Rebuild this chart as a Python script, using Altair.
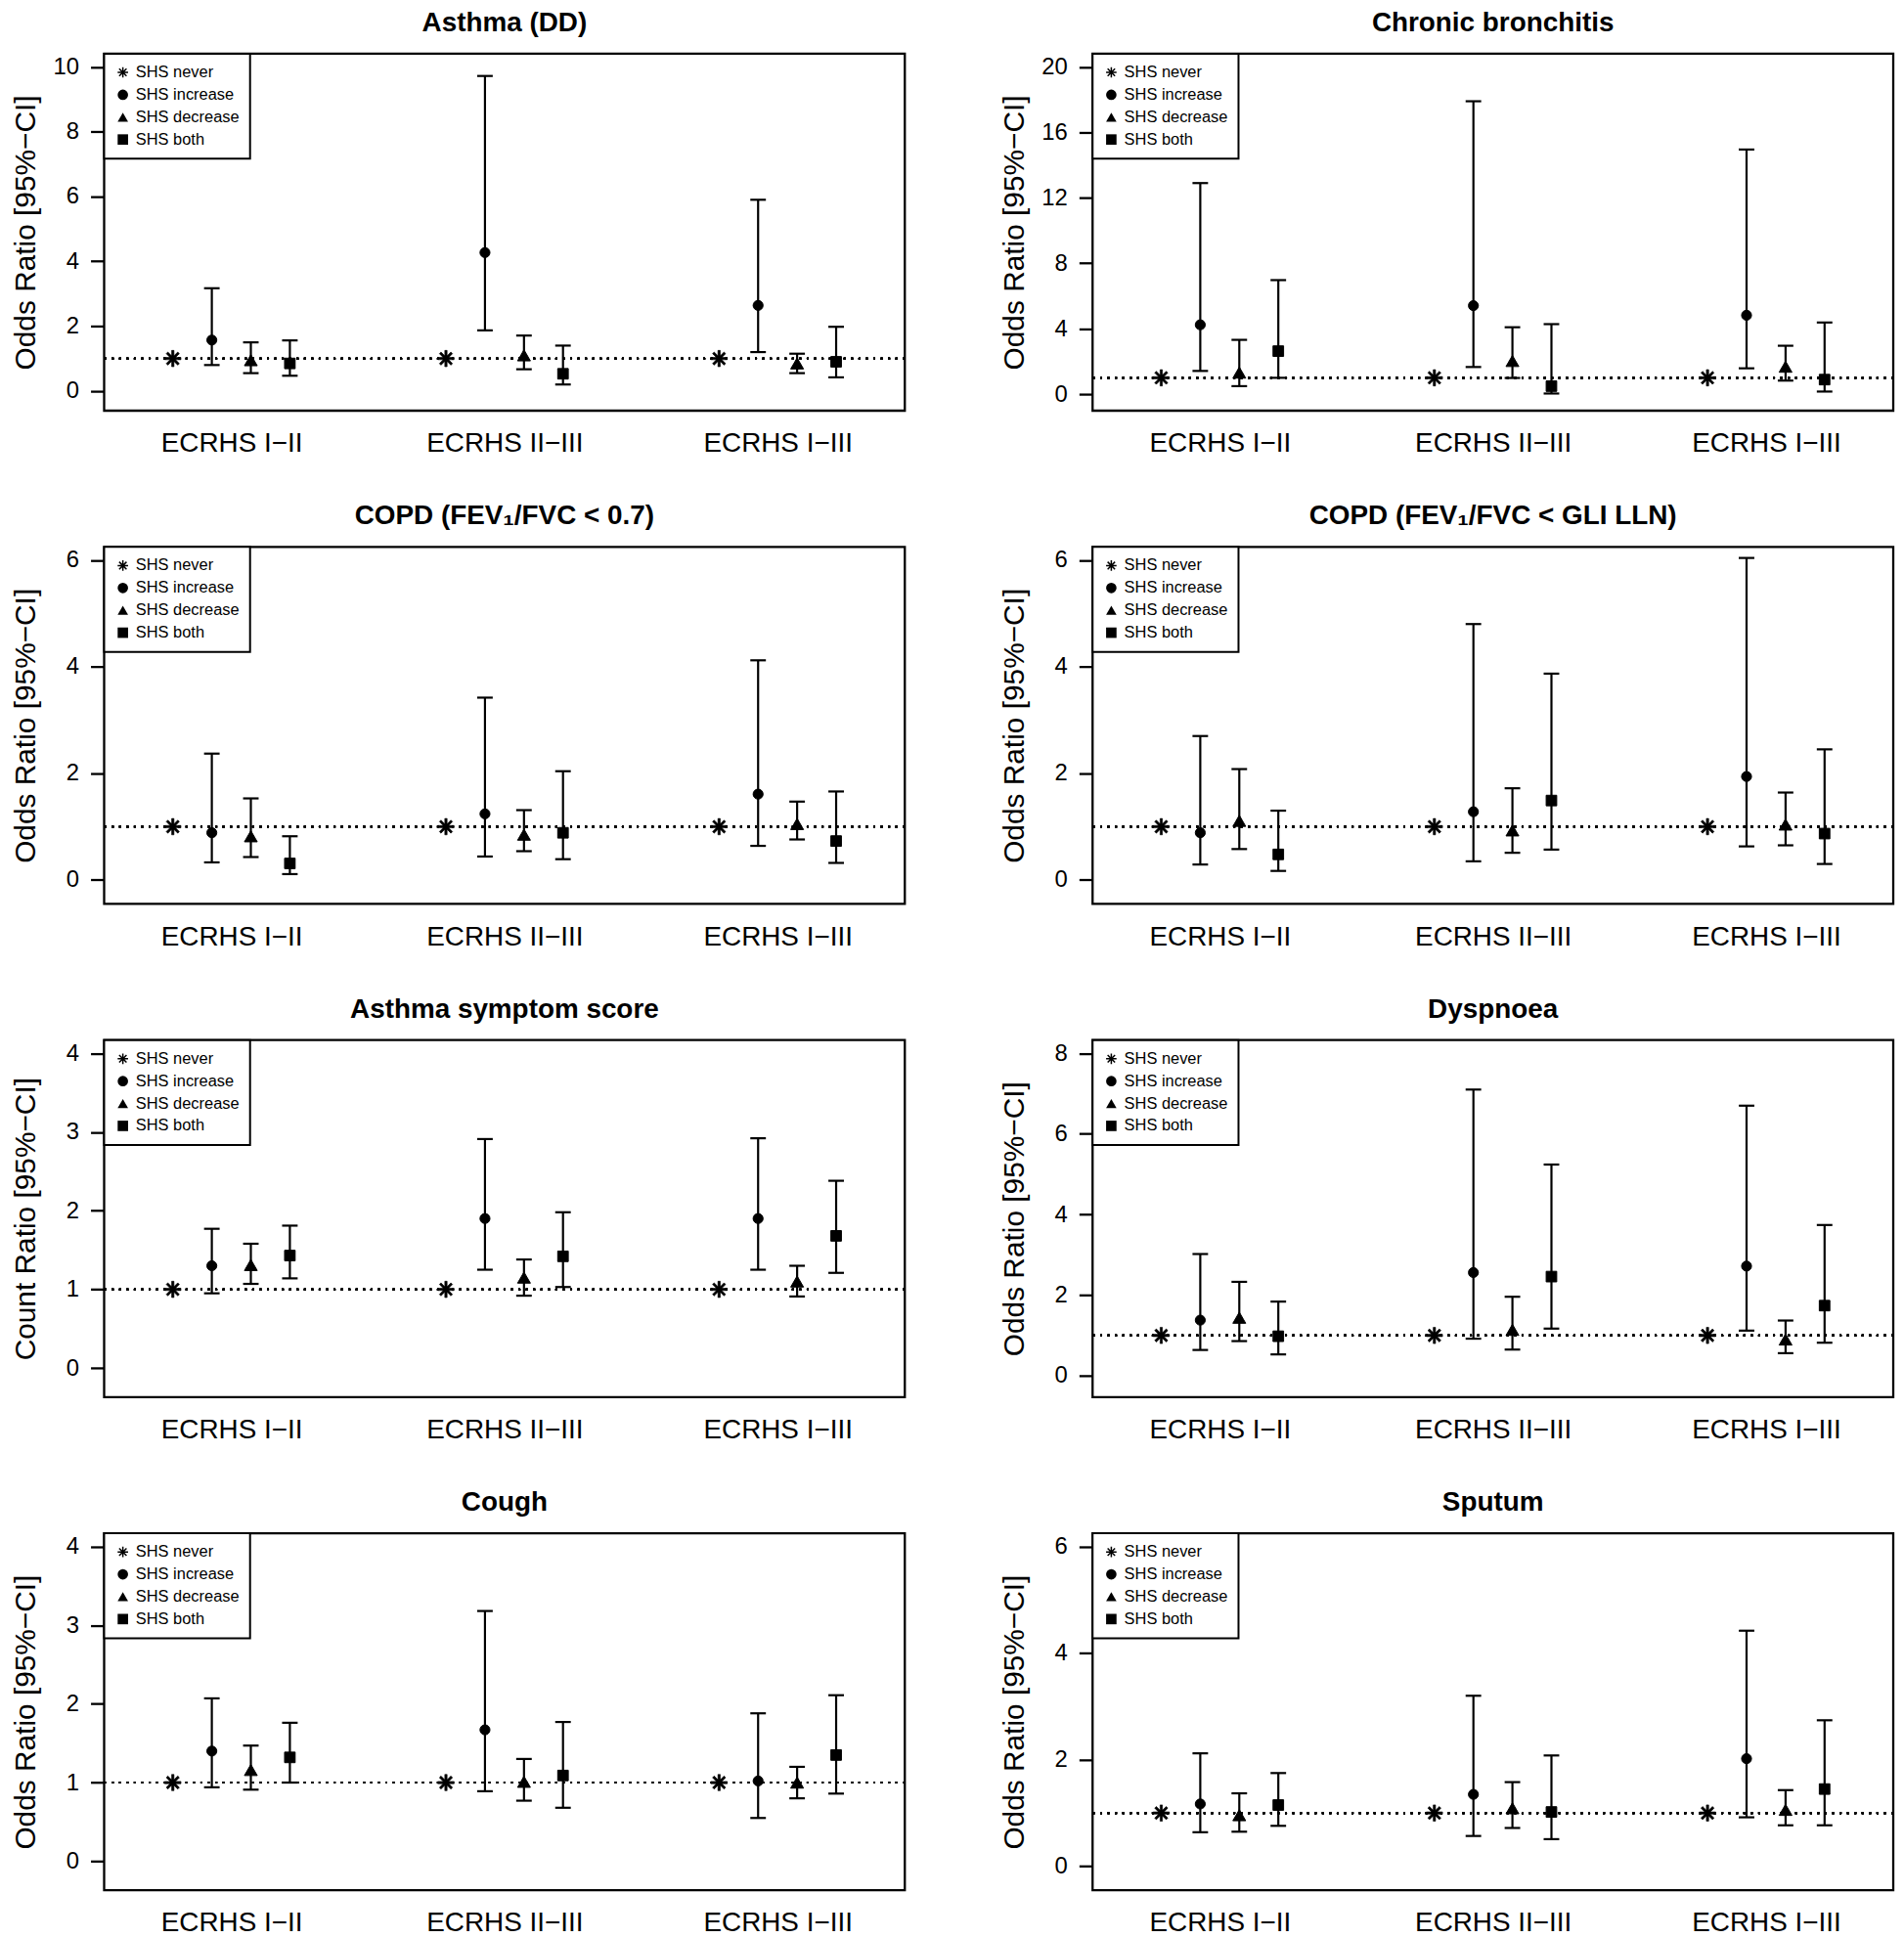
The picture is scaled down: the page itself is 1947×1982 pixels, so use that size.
import math
import altair as alt
import pandas as pd

FONT = "Liberation Sans"

periods = ["ECRHS I\u2212II", "ECRHS II\u2212III", "ECRHS I\u2212III"]
groups = ["SHS never", "SHS increase", "SHS decrease", "SHS both"]

titles = ["Asthma (DD)", "Chronic bronchitis",
          "COPD (FEV\u2081/FVC < 0.7)", "COPD (FEV\u2081/FVC < GLI LLN)",
          "Asthma symptom score", "Dyspnoea", "Cough", "Sputum"]
y_titles = ["Odds Ratio [95%\u2212CI]"] * 4 + ["Count Ratio [95%\u2212CI]"] + ["Odds Ratio [95%\u2212CI]"] * 3
y_tops = [10, 20, 6, 6, 4, 8, 4, 6]
y_ticks = [[0, 2, 4, 6, 8, 10], [0, 4, 8, 12, 16, 20], [0, 2, 4, 6], [0, 2, 4, 6],
           [0, 1, 2, 3, 4], [0, 2, 4, 6, 8], [0, 1, 2, 3, 4], [0, 2, 4, 6]]

# order per period: increase, decrease, both  (never = reference 1)
asthma_est = [1.57, 0.95, 0.85, 4.27, 1.10, 0.53, 2.64, 0.85, 0.90]
asthma_lo = [0.80, 0.55, 0.47, 1.87, 0.67, 0.20, 1.20, 0.55, 0.42]
asthma_hi = [3.17, 1.50, 1.56, 9.72, 1.71, 1.40, 5.90, 1.15, 1.98]

bronch_est = [4.24, 1.32, 2.63, 5.41, 2.03, 0.49, 4.82, 1.68, 0.89]
bronch_lo = [1.42, 0.49, 1.00, 1.66, 0.99, 0.04, 1.58, 0.83, 0.16]
bronch_hi = [12.9, 3.32, 6.97, 17.9, 4.09, 4.28, 14.95, 2.96, 4.38]

copd07_est = [0.885, 0.82, 0.31, 1.24, 0.85, 0.885, 1.61, 1.05, 0.73]
copd07_lo = [0.33, 0.43, 0.11, 0.44, 0.54, 0.39, 0.64, 0.76, 0.32]
copd07_hi = [2.37, 1.53, 0.82, 3.42, 1.31, 2.04, 4.12, 1.47, 1.66]

copdlln_est = [0.885, 1.11, 0.48, 1.28, 0.93, 1.49, 1.94, 1.04, 0.87]
copdlln_lo = [0.29, 0.58, 0.17, 0.35, 0.51, 0.57, 0.63, 0.65, 0.30]
copdlln_hi = [2.70, 2.08, 1.30, 4.80, 1.72, 3.87, 6.04, 1.64, 2.45]

sympt_est = [1.30, 1.31, 1.43, 1.90, 1.15, 1.42, 1.90, 1.10, 1.68]
sympt_lo = [0.95, 1.07, 1.14, 1.25, 0.92, 1.03, 1.25, 0.91, 1.21]
sympt_hi = [1.77, 1.58, 1.81, 2.91, 1.38, 1.98, 2.92, 1.30, 2.38]

dysp_est = [1.38, 1.44, 0.98, 2.56, 1.14, 2.46, 2.72, 0.90, 1.74]
dysp_lo = [0.64, 0.86, 0.53, 0.92, 0.65, 1.17, 1.12, 0.56, 0.82]
dysp_hi = [3.02, 2.33, 1.84, 7.10, 1.96, 5.24, 6.70, 1.37, 3.74]

cough_est = [1.40, 1.16, 1.32, 1.67, 1.01, 1.09, 1.02, 1.00, 1.35]
cough_lo = [0.94, 0.91, 1.00, 0.89, 0.77, 0.68, 0.55, 0.80, 0.86]
cough_hi = [2.07, 1.47, 1.76, 3.18, 1.30, 1.77, 1.88, 1.20, 2.11]

sputum_est = [1.17, 0.96, 1.15, 1.35, 1.09, 1.02, 2.02, 1.06, 1.45]
sputum_lo = [0.64, 0.65, 0.76, 0.57, 0.72, 0.51, 0.92, 0.77, 0.77]
sputum_hi = [2.12, 1.37, 1.75, 3.20, 1.58, 2.08, 4.42, 1.43, 2.74]

series = [
    (asthma_est, asthma_lo, asthma_hi),
    (bronch_est, bronch_lo, bronch_hi),
    (copd07_est, copd07_lo, copd07_hi),
    (copdlln_est, copdlln_lo, copdlln_hi),
    (sympt_est, sympt_lo, sympt_hi),
    (dysp_est, dysp_lo, dysp_hi),
    (cough_est, cough_lo, cough_hi),
    (sputum_est, sputum_lo, sputum_hi),
]


def asterisk_path(w=0.14):
    # filled 8-armed asterisk (union of four thin bars)
    parts = []
    for deg in (0, 45, 90, 135):
        t = math.radians(deg)
        dx, dy = math.cos(t), math.sin(t)
        nx, ny = -dy, dx
        pts = [(dx + nx * w, dy + ny * w), (-dx + nx * w, -dy + ny * w),
               (-dx - nx * w, -dy - ny * w), (dx - nx * w, dy - ny * w)]
        parts.append("M" + "L".join(f"{x:.3f},{y:.3f}" for x, y in pts) + "Z")
    return "".join(parts)


shape_range = [asterisk_path(), "circle", "triangle-up", "square"]
group_size = [280, 105, 175, 118]
group_sw = [0.6, 1, 1, 1]

GROUP_GAP = 7  # slots between period groups
PW, PH = 823, 367


def build_df(est, lo, hi):
    rows = []
    for p, period in enumerate(periods):
        rows.append(dict(period=period, group=groups[0], pos=p * GROUP_GAP,
                         est=1.0, lo=None, hi=None))
        for g in range(3):
            i = p * 3 + g
            rows.append(dict(period=period, group=groups[g + 1],
                             pos=p * GROUP_GAP + g + 1,
                             est=est[i], lo=lo[i], hi=hi[i]))
    return pd.DataFrame(rows)


centers = [p * GROUP_GAP + 1.5 for p in range(len(periods))]
label_expr = " : ".join(
    f"datum.value == {c} ? '{name}'" for c, name in zip(centers[:-1], periods[:-1])
) + f" : '{periods[-1]}'"


def panel(k):
    est, lo, hi = series[k]
    df = build_df(est, lo, hi)
    top = y_tops[k]
    ext = 0.04 * (top + 0.2)
    yscale = alt.Scale(domain=[-0.2 - ext, top + ext], nice=False, zero=False)
    xscale = alt.Scale(domain=[-1.76, 18.76], nice=False, zero=False)
    xaxis = alt.Axis(values=centers, labelExpr=label_expr, title=None, grid=False,
                     ticks=False, tickSize=0, domain=False, labelFontSize=28,
                     labelFont=FONT, labelColor="black", labelPadding=20)
    yaxis = alt.Axis(values=y_ticks[k], format="d", title=y_titles[k], grid=False,
                     domain=False, ticks=True, tickSize=14, tickWidth=2.3,
                     tickColor="black", labelFontSize=24, labelFont=FONT,
                     labelColor="black", labelPadding=12, titleFont=FONT,
                     titleFontSize=30, titleFontWeight="normal", titleColor="black",
                     titleAngle=270, titleAlign="center", titleBaseline="alphabetic",
                     titleX=-71, titleY=PH / 2)
    x_enc = alt.X("pos:Q", scale=xscale, axis=xaxis)
    base = alt.Chart(df)

    ref = base.mark_rule(color="black", strokeWidth=2, strokeDash=[2, 5.6]).encode(
        y=alt.datum(1))
    bars = base.transform_filter("isValid(datum.lo)").mark_rule(
        color="black", strokeWidth=2.2).encode(
        x=x_enc, y=alt.Y("lo:Q", scale=yscale, axis=yaxis), y2="hi:Q")
    cap_lo = base.transform_filter("isValid(datum.lo)").mark_tick(
        color="black", orient="horizontal", size=16, thickness=2.2, opacity=1).encode(
        x=x_enc, y=alt.Y("lo:Q", scale=yscale, axis=yaxis))
    cap_hi = base.transform_filter("isValid(datum.hi)").mark_tick(
        color="black", orient="horizontal", size=16, thickness=2.2, opacity=1).encode(
        x=x_enc, y=alt.Y("hi:Q", scale=yscale, axis=yaxis))

    shape_enc = alt.Shape(
        "group:N", scale=alt.Scale(domain=groups, range=shape_range),
        legend=alt.Legend(title=None, orient="top-left", offset=0, padding=11,
                          rowPadding=6, labelFontSize=16.5, labelFont=FONT,
                          labelColor="black", labelOffset=5, symbolSize=115,
                          symbolFillColor="black", symbolStrokeColor="black",
                          symbolStrokeWidth=0.8, symbolOpacity=1,
                          fillColor="white", strokeColor="black"))
    pts = []
    for g, name in enumerate(groups):
        pts.append(base.transform_filter(alt.datum.group == name).mark_point(
            filled=True, color="black", stroke="black", opacity=1,
            size=group_size[g], strokeWidth=group_sw[g]).encode(
            x=x_enc, y=alt.Y("est:Q", scale=yscale, axis=yaxis), shape=shape_enc))

    return alt.layer(ref, bars, cap_lo, cap_hi, *pts).properties(
        width=PW, height=PH,
        title=alt.TitleParams(titles[k], font=FONT, fontSize=28, fontWeight="bold",
                              anchor="middle", frame="group", color="black",
                              baseline="alphabetic", offset=-6))


panels = [panel(k) for k in range(8)]

chart = alt.concat(*panels, columns=2, spacing={"row": 43, "column": 93}).resolve_scale(
    shape="independent").resolve_legend(shape="independent").properties(
    padding={"left": 2, "top": -5, "right": 0, "bottom": 0}
).configure_view(stroke="black", strokeWidth=2.3).configure_legend(strokeWidth=2)

chart.save("out.html", embed_options={"renderer": "svg", "actions": False})
